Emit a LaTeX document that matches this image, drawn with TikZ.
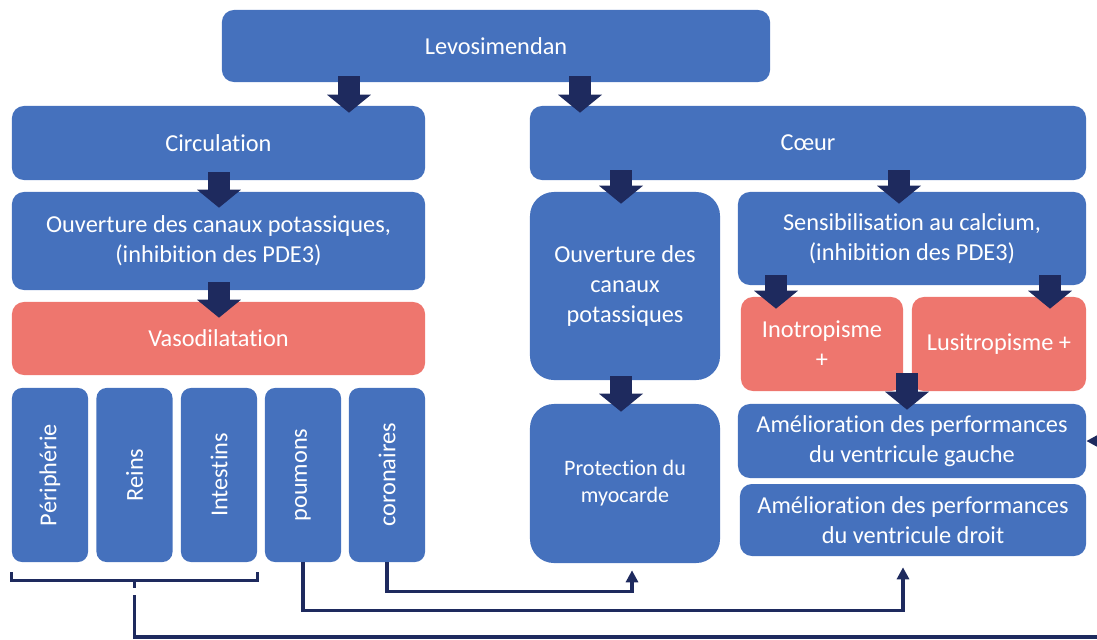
\documentclass[tikz,border=0pt]{standalone}
\usepackage{fontspec}
\setmainfont[Ligatures=NoCommon]{Carlito}
\usetikzlibrary{arrows.meta,positioning}
\definecolor{boxblue}{HTML}{4571BD}
\definecolor{boxred}{HTML}{EE766E}
\definecolor{navy}{HTML}{1E2A5E}

\begin{document}
\begin{tikzpicture}[
    x=0.025cm, y=-0.025cm,
    bluebox/.style={fill=boxblue, rounded corners=0.3cm, text=white, align=center, inner sep=0pt, font=\fontsize{17.3}{21.3}\selectfont},
    redbox/.style={bluebox, fill=boxred},
    organ/.style={bluebox, rounded corners=0.25cm, minimum width=1.9cm, minimum height=4.35cm},
    flow/.style={-{Triangle[width=1.075cm,length=0.45cm]}, line width=0.55cm, navy},
    feed/.style={line width=2.2pt, navy},
    tip/.style={-{Triangle[width=0.3cm,length=0.3cm]}}
]
\useasboundingbox (0,0) rectangle (1097,639);
% top row
\node[bluebox, minimum width=13.7cm, minimum height=1.8cm] (lev) at (496,46) {Levosimendan};
\node[bluebox, minimum width=10.325cm, minimum height=1.85cm] (circ) at (218.5,143) {Circulation};
\node[bluebox, minimum width=13.9cm, minimum height=1.85cm] (coeur) at (808,143) {Cœur};
% circulation side
\node[bluebox, minimum width=10.325cm, minimum height=2.45cm] (ouvL) at (218.5,241) {Ouverture des canaux potassiques,\\(inhibition des PDE3)};
\node[redbox, minimum width=10.325cm, minimum height=1.825cm] (vaso) at (218.5,338.5) {Vasodilatation};
\node[organ] (peri) at (50,475) {\rotatebox{90}{Périphérie}};
\node[organ] (reins) at (134.5,475) {\rotatebox{90}{Reins}};
\node[organ] (inte) at (219,475) {\rotatebox{90}{Intestins}};
\node[organ] (pou) at (303,475) {\rotatebox{90}{poumons}};
\node[organ] (cor) at (387,475) {\rotatebox{90}{coronaires}};
% heart side
\node[bluebox, rounded corners=0.6cm, minimum width=4.75cm, minimum height=4.7cm] (ouvM) at (625,286) {Ouverture des\\canaux\\potassiques};
\node[bluebox, rounded corners=0.6cm, minimum width=4.75cm, minimum height=3.975cm, font=\fontsize{15.7}{19.2}\selectfont] (prot) at (625,483.5) {Protection du\\myocarde};
\node[bluebox, minimum width=8.7cm, minimum height=2.325cm] (sens) at (912,238.5) {Sensibilisation au calcium,\\(inhibition des PDE3)};
\node[redbox, minimum width=4.05cm, minimum height=2.35cm] (ino) at (822,344) {Inotropisme\\+};
\node[redbox, minimum width=4.35cm, minimum height=2.35cm] (lusi) at (999,344) {Lusitropisme +};
\node[bluebox, minimum width=8.7cm, minimum height=1.85cm] (amG) at (912,441) {Amélioration des performances\\du ventricule gauche};
\node[bluebox, minimum width=8.65cm, minimum height=1.8cm] (amD) at (913,520) {Amélioration des performances\\du ventricule droit};
% block arrows
\coordinate (k1) at (349,0);
\coordinate (k2) at (580,0);
\coordinate (k3) at (219,0);
\coordinate (k4) at (621,0);
\coordinate (k5) at (899,0);
\coordinate (k6) at (776,0);
\coordinate (k7) at (1050,0);
\coordinate (k8) at (907,0);
\draw[flow] ([yshift=0.15cm]lev.south -| k1) -- ([yshift=-0.175cm]circ.north -| k1);
\draw[flow] ([yshift=0.15cm]lev.south -| k2) -- ([yshift=-0.175cm]coeur.north -| k2);
\draw[flow] ([yshift=0.2cm]circ.south -| k3) -- ([yshift=-0.4cm]ouvL.north -| k3);
\draw[flow] ([yshift=0.2cm]ouvL.south -| k3) -- ([yshift=-0.4cm]vaso.north -| k3);
\draw[flow] ([yshift=0.25cm]coeur.south -| k4) -- ([yshift=-0.3cm]ouvM.north -| k4);
\draw[flow] ([yshift=0.25cm]coeur.south -| k5) -- ([yshift=-0.3cm]sens.north -| k5);
\draw[flow] ([yshift=0.1cm]ouvM.south -| k4) -- ([yshift=-0.2cm]prot.north -| k4);
\draw[flow] ([yshift=0.25cm]sens.south -| k6) -- ([yshift=-0.3cm]ino.north -| k6);
\draw[flow] ([yshift=0.25cm]sens.south -| k7) -- ([yshift=-0.3cm]lusi.north -| k7);
\draw[flow] ([yshift=0.45cm]ino.south -| k8) -- ([yshift=-0.15cm]amG.north -| k8);
% feedback lines
\draw[feed] ([yshift=-0.25cm]peri.south west) -- ([yshift=-0.45cm]peri.south west) -- ([yshift=-0.45cm]inte.south east) -- ([yshift=-0.25cm]inte.south east);
\draw[feed] ([yshift=-0.45cm]reins.south) -- ([yshift=-0.65cm]reins.south);
\draw[feed, tip] ([yshift=-0.825cm]reins.south) |- (1105,637) |- (amG.east);
\draw[feed, tip] (pou.south) -- ++(0,48) -| ([xshift=-0.25cm,yshift=-0.275cm]amD.south);
\draw[feed, tip] (cor.south) -- ++(0,29) -| ([xshift=0.175cm,yshift=-0.175cm]prot.south);
\end{tikzpicture}
\end{document}
